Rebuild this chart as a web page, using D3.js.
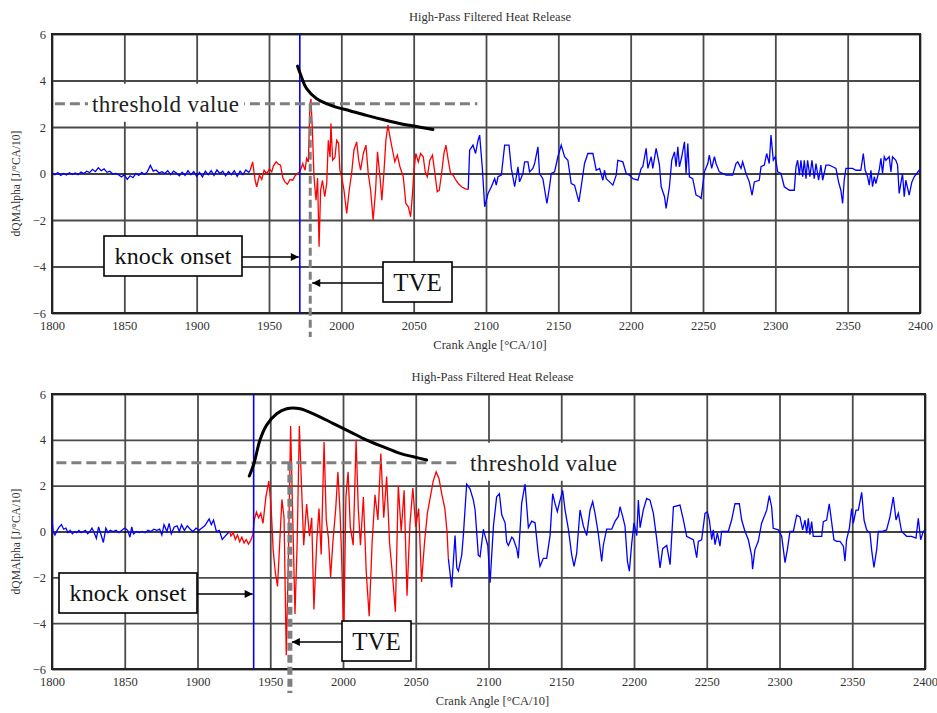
<!DOCTYPE html>
<html>
<head>
<meta charset="utf-8">
<script src="https://cdn.jsdelivr.net/npm/d3@7"></script>
<style>
  html, body { margin: 0; padding: 0; background: #fff; }
  svg { display: block; }
  text { font-family: "Liberation Serif", "Times New Roman", serif; }
</style>
</head>
<body>
<svg id="chart" width="937" height="713"></svg>
<script>
// ---------------- DATA ----------------
const chartTitle = "High-Pass Filtered Heat Release";
const xLabel = "Crank Angle [°CA/10]";
const yLabel = "dQMAlpha [J/°CA/10]";
const xTicks = [1800, 1850, 1900, 1950, 2000, 2050, 2100, 2150, 2200, 2250, 2300, 2350, 2400];
const yTicks = [-6, -4, -2, 0, 2, 4, 6];
const thresholdValue = 3;

// Top panel
const topKnockOnset = 1971.3;
const topTVE = 1978.5;
const topPre = [[1800,0.02],[1802,-0.05],[1804,0.04],[1806,-0.08],[1808,0.0],[1810,-0.06],[1812,0.03],[1814,-0.04],[1816,0.02],[1818,-0.05],[1820,0.06],[1822,0.0],[1824,0.1],[1826,0.04],[1828,0.18],[1830,0.08],[1832,0.25],[1834,0.12],[1836,0.2],[1838,0.05],[1840,0.1],[1842,-0.02],[1844,0.0],[1846,-0.05],[1848,-0.15],[1850,-0.05],[1852,-0.25],[1854,-0.1],[1856,-0.18],[1858,0.0],[1860,-0.08],[1862,0.05],[1864,-0.04],[1866,0.08],[1868,0.35],[1870,0.1],[1872,0.15],[1874,0.02],[1876,0.08],[1878,0.0],[1880,0.12],[1882,-0.05],[1884,0.1],[1886,0.02],[1888,-0.1],[1890,0.05],[1892,-0.08],[1894,0.12],[1896,-0.05],[1898,0.08],[1900,-0.12],[1902,0.05],[1904,-0.15],[1906,0.1],[1908,-0.05],[1910,0.12],[1912,-0.08],[1914,0.15],[1916,0.0],[1918,0.1],[1920,-0.1],[1922,0.08],[1924,-0.05],[1926,0.12],[1928,-0.12],[1930,0.1],[1932,-0.05],[1934,0.15],[1936,0.05],[1937,0.14]];
const topKnock = [[1937,0.14],[1938.7,0.5],[1940.4,-0.29],[1941.5,-0.57],[1943.4,-0.07],[1945,-0.26],[1946.6,0.14],[1948.4,0.0],[1950.3,0.2],[1951.9,0.07],[1953,0.32],[1954.9,0.5],[1956.5,0.4],[1958,0.36],[1959.5,-0.17],[1961,-0.36],[1962.7,-0.46],[1964.5,-0.26],[1966.4,-0.29],[1968,-0.1],[1969.6,0.0],[1971.4,0.07],[1973.3,0.43],[1974.9,0.14],[1976,0.65],[1977.2,0.5],[1978.3,3.0],[1979,3.2],[1980,1.86],[1981.1,-0.14],[1982.5,-1.15],[1983.6,-0.2],[1984.6,-3.15],[1985.7,-0.7],[1987,-0.3],[1988.5,-1.0],[1989.9,-0.43],[1991,1.43],[1992.2,0.7],[1992.8,2.15],[1994,0.57],[1995.6,0.7],[1996.8,1.43],[1998.1,1.3],[1999,0.14],[2000.2,-0.14],[2001.8,-0.7],[2003.7,-1.72],[2005.5,-0.7],[2007.1,0.0],[2008.7,1.0],[2010.6,1.36],[2012,0.57],[2013.3,0.14],[2015.2,0.86],[2017,1.22],[2018.6,0.0],[2020.2,-0.7],[2022,-2.0],[2023.7,-0.7],[2025,0.93],[2026.7,-0.14],[2028,-1.15],[2029.4,0.0],[2030.8,1.43],[2032.2,2.08],[2033.6,1.58],[2035.4,1.0],[2037,0.5],[2038.7,0.79],[2040.5,0.29],[2042.8,-0.14],[2044.6,-1.29],[2046.3,-1.43],[2047.9,-1.86],[2049.2,-0.86],[2050.2,0.14],[2051.5,0.86],[2053.2,0.5],[2054.8,0.86],[2056.6,0.72],[2058,0.07],[2059.4,-0.14],[2061.2,0.57],[2063,0.79],[2064.7,0.0],[2066.3,-0.79],[2067.7,-0.72],[2069.3,0.0],[2070.9,0.86],[2072.3,1.22],[2073.9,0.57],[2075.5,0.0],[2077.3,-0.07],[2079.2,-0.29],[2080.8,-0.43],[2083.1,-0.57],[2085.4,-0.65],[2087.7,-0.69]];
const topPost = [[2087.7,-0.69],[2088.7,1.0],[2091,1.22],[2092.8,0.86],[2094.5,1.43],[2095.6,1.65],[2097.4,0.29],[2099.1,-1.43],[2101.4,-0.86],[2103.7,-0.57],[2106,-0.22],[2107.1,-0.5],[2108.3,-0.14],[2110.6,-0.07],[2112.9,1.22],[2115.9,1.22],[2117.5,0.22],[2119.8,-0.57],[2122.1,0.29],[2123.2,-0.36],[2125.5,0.0],[2126.7,0.5],[2129,0.5],[2130.1,0.07],[2132.4,0.22],[2133.6,0.43],[2135.9,1.15],[2137,0.0],[2139.3,-0.22],[2142.1,-1.29],[2143.9,-0.57],[2145.1,0.0],[2147.4,0.07],[2149.7,0.72],[2152,1.22],[2154.3,0.72],[2156.6,0.57],[2158.9,-0.43],[2161.2,-0.5],[2164.2,-1.22],[2165.8,-0.57],[2168.1,0.43],[2170.4,0.86],[2173.9,0.86],[2176.2,0.14],[2178.5,0.22],[2180.8,-0.29],[2181.9,0.14],[2183.1,-0.22],[2185.4,-0.36],[2187.7,-0.5],[2190,-0.07],[2191.1,0.57],[2194.6,0.5],[2196.9,0.0],[2199.2,-0.07],[2201.5,-0.22],[2205,-0.29],[2207.3,0.22],[2208.4,0.29],[2210.7,1.08],[2211.9,0.22],[2214.2,0.72],[2215.3,0.22],[2217.6,1.08],[2219.9,0.36],[2221.1,-0.57],[2223.4,-1.0],[2224.5,-1.5],[2226.8,-0.57],[2228.4,0.57],[2230.3,0.93],[2231.4,0.29],[2232.6,1.15],[2233.7,0.29],[2235.3,0.72],[2237.2,1.36],[2238.3,0.0],[2239.5,1.29],[2240.6,-0.14],[2242.9,-0.22],[2245.2,-0.93],[2247.5,-1.0],[2248.7,-1.07],[2251,0.07],[2253.3,0.43],[2254.4,0.79],[2256,0.22],[2257.9,0.72],[2259,0.43],[2261.3,0.07],[2265.9,-0.07],[2270.5,-0.07],[2272.8,0.43],[2274,0.5],[2276.3,0.22],[2277.4,0.5],[2279.7,0.0],[2282,-0.36],[2283.9,-0.93],[2285.5,-0.36],[2288.9,-0.29],[2290.1,0.29],[2292.4,0.36],[2294,0.86],[2295.8,0.43],[2297,1.65],[2298.6,0.57],[2300,0.72],[2301.6,0.07],[2303.9,0.0],[2306.2,-0.57],[2309.7,-0.72],[2313.1,-0.72],[2314.3,0.29],[2315.4,0.57],[2316.6,-0.07],[2317.7,0.57],[2318.9,-0.14],[2320,0.57],[2321.2,-0.22],[2322.3,0.57],[2323.9,-0.14],[2325.3,0.57],[2326.9,-0.22],[2328.1,0.43],[2329.9,-0.29],[2331.5,0.36],[2332.7,-0.29],[2335,0.36],[2337.3,0.36],[2339.6,0.29],[2341.9,0.22],[2343.7,-0.36],[2345.3,-0.72],[2346.5,-1.29],[2347.6,-0.29],[2348.8,0.22],[2353.4,0.22],[2355.7,0.14],[2359.1,0.14],[2360.8,0.86],[2362.1,0.14],[2363.8,-0.14],[2364.9,-0.5],[2366.1,0.14],[2367.2,-0.57],[2368.4,-0.14],[2369.5,-0.43],[2371.8,0.14],[2373,0.65],[2374.1,0.0],[2375.3,0.72],[2376.4,0.57],[2378.7,0.72],[2379.9,0.07],[2381,0.72],[2383.3,0.57],[2384.5,0.36],[2385.6,-0.86],[2387.9,0.0],[2389.1,-1.0],[2390.2,-0.29],[2392.5,-0.93],[2394.4,-0.36],[2396,-0.14],[2399.4,0.14],[2400,0.17]];
const topEnvelope = [[1969.7,4.62],[1972.4,4.16],[1975.9,3.66],[1982.8,3.23],[1994.3,2.9],[2005.8,2.7],[2017.3,2.5],[2028.8,2.32],[2040.3,2.15],[2051.8,2.02],[2063.3,1.89]];

// Bottom panel
const botKnockOnset = 1938.6;
const botTVE = 1963.5;
const botPre = [[1800,0.55],[1800.8,0.0],[1802,-0.15],[1803.5,0.05],[1805,0.2],[1806.5,0.3],[1808,0.1],[1809.5,0.15],[1811,-0.05],[1812.5,0.05],[1814,-0.1],[1815.5,0.0],[1817,-0.05],[1818.5,0.05],[1820,-0.05],[1821.5,0.0],[1823,0.05],[1824.5,-0.1],[1826,0.0],[1827.5,0.15],[1829,-0.05],[1830.5,-0.3],[1832,0.2],[1833.5,-0.1],[1835.3,-0.48],[1837,0.15],[1838.5,-0.05],[1840,0.05],[1842,0.0],[1844,0.05],[1846,-0.05],[1848,0.05],[1850,0.15],[1852,0.05],[1853.6,-0.25],[1854.8,0.2],[1856,-0.1],[1858,0.0],[1860,-0.05],[1862,0.0],[1864,-0.05],[1866,0.05],[1868,0.0],[1870,0.1],[1872,0.05],[1874,0.1],[1875.5,-0.15],[1877,0.3],[1879,0.0],[1880.5,0.35],[1882,-0.1],[1884,0.2],[1886,0.25],[1887.5,0.0],[1889,0.3],[1891,0.05],[1893,0.25],[1895,0.1],[1897,0.0],[1899,0.15],[1901,0.05],[1903,0.15],[1905,0.25],[1906.5,0.4],[1908,0.55],[1909.5,0.3],[1911,0.5],[1913,0.0],[1915,0.05],[1917,-0.35],[1919,-0.2],[1920.5,-0.1],[1922,0.0]];
const botKnock = [[1922,0.0],[1923,-0.2],[1924.5,-0.05],[1926,-0.35],[1927.5,-0.15],[1929,-0.45],[1930.5,-0.25],[1932,-0.5],[1933.5,-0.35],[1935,-0.55],[1936.5,-0.4],[1938,-0.15],[1939,0.5],[1940.5,0.85],[1942,0.6],[1943.5,0.8],[1945,0.35],[1947,1.5],[1949,2.2],[1950.5,1.2],[1952,-0.8],[1953.5,-1.8],[1955,-2.4],[1956.5,-0.5],[1958,1.4],[1959.5,0.6],[1961,-5.4],[1962.5,-1.0],[1964,4.6],[1965.5,0.5],[1967,-3.6],[1968.5,-0.5],[1970,4.6],[1971.5,2.0],[1973,-0.6],[1975,1.2],[1977,-0.2],[1978.5,0.6],[1980,-3.4],[1982,-0.4],[1983.5,1.0],[1985,-1.0],[1987,3.9],[1988.5,0.5],[1990,-0.3],[1991.5,-2.0],[1993,-0.5],[1995,1.0],[1996.5,2.6],[1998,0.8],[1999,-1.0],[2000.5,-4.6],[2002,1.5],[2003.5,2.6],[2005,0.2],[2007,-0.6],[2009,4.0],[2010.5,1.0],[2012,-0.6],[2014,1.5],[2016,-1.8],[2018,-3.7],[2020,-0.5],[2022,1.6],[2024,0.5],[2026,3.4],[2028,0.6],[2030,2.4],[2032,-0.5],[2034,-1.9],[2036,-3.5],[2038,2.0],[2040,0.0],[2042,1.8],[2044,-2.8],[2046,0.3],[2048,1.9],[2050,0.2],[2052,1.0],[2054,-2.2],[2056,-0.5],[2058,0.8],[2060,1.5],[2062,2.2],[2064,2.6],[2066,2.3],[2068,1.6],[2070,1.0],[2071.5,0.0],[2072.4,-1.17]];
const botPost = [[2072.4,-1.17],[2074.7,-2.44],[2077,-0.18],[2078.2,-1.59],[2079.3,-1.73],[2081.6,-1.03],[2082.7,-0.18],[2085,2.07],[2087.3,1.86],[2089.6,1.37],[2090.8,0.94],[2093,-1.03],[2094.2,-1.1],[2096.5,0.1],[2097.6,-0.18],[2099.5,-0.61],[2101.1,-2.23],[2103.4,0.24],[2105.6,1.51],[2107.5,1.65],[2109.1,0.73],[2111.4,0.38],[2112.5,-0.46],[2113.7,-0.61],[2116,-0.25],[2117.1,-0.32],[2119.4,-0.75],[2120.5,-1.17],[2122.8,1.23],[2125.1,2.07],[2127.4,0.17],[2129.7,0.45],[2132,0.38],[2134.3,-1.03],[2135.4,-1.52],[2137.7,-1.17],[2140,-1.17],[2142.3,-0.18],[2144.1,1.65],[2145.7,1.23],[2147.3,0.87],[2149.2,1.37],[2151,1.79],[2152.6,0.94],[2154.9,0.1],[2157.2,-1.03],[2158.8,-1.52],[2160.6,-0.96],[2162.9,0.94],[2165.2,0.24],[2167.5,-0.18],[2169.8,0.94],[2171.6,1.3],[2173.2,0.8],[2175.5,-0.11],[2177.8,-1.31],[2178.9,-0.61],[2181.2,0.1],[2184.7,0.1],[2187,0.45],[2189.3,0.66],[2190.4,1.08],[2192.2,0.66],[2193.8,0.24],[2195.5,-1.31],[2196.8,-1.73],[2198.4,-0.54],[2200,0.38],[2201.9,-0.18],[2203,1.37],[2204.2,0.17],[2206.4,0.94],[2208.7,1.44],[2211,1.37],[2213.3,0.8],[2215.6,-0.32],[2217.9,-1.59],[2219.7,-0.75],[2222.5,-0.61],[2224.8,-1.45],[2227.1,1.08],[2231.6,1.15],[2233.9,0.52],[2236.2,-0.21],[2238.5,-0.29],[2240.8,-0.36],[2243.1,-1.14],[2244.2,-0.43],[2246.5,-0.36],[2248.8,0.79],[2250.4,0.86],[2251.8,0.5],[2253.4,-0.36],[2254.5,0.07],[2255.7,-0.57],[2257.3,-0.07],[2259.1,-0.64],[2260.2,0.0],[2262.5,0.0],[2264.8,0.0],[2267.1,0.5],[2269.4,1.21],[2272.4,1.21],[2274,0.5],[2276.3,0.0],[2278.6,-0.36],[2280.9,-1.07],[2281.5,-1.64],[2283.1,-0.79],[2285.4,-0.43],[2287.7,0.36],[2291.2,0.93],[2293,1.57],[2294.6,1.07],[2295.7,0.14],[2299.2,0.07],[2301.5,-0.21],[2303.8,-1.36],[2305.4,-0.79],[2307.2,0.0],[2309.5,0.0],[2311.8,0.71],[2314.1,0.64],[2315.9,0.07],[2317.5,0.5],[2318.7,-0.07],[2319.8,0.57],[2320.9,-0.14],[2322.1,0.43],[2323.2,-0.21],[2325.5,-0.21],[2329,-0.21],[2330.1,0.43],[2332.4,0.5],[2334.2,1.21],[2335.8,0.43],[2337.4,-0.36],[2339.3,-0.43],[2341.6,-0.43],[2343.9,-0.64],[2345,-1.29],[2346.1,-0.36],[2348,0.14],[2349.6,1.0],[2350.7,0.36],[2352.6,0.93],[2354.2,0.93],[2356.5,1.71],[2358.1,0.5],[2359.9,0.07],[2362.2,-0.07],[2363.3,-0.79],[2364.9,-1.57],[2366.8,-0.79],[2367.9,0.0],[2370.2,0.0],[2373.6,0.07],[2375.9,0.64],[2378.2,1.5],[2380.1,0.5],[2381.7,0.79],[2383.9,0.0],[2387.4,-0.21],[2390.8,-0.21],[2393.8,-0.29],[2395.4,0.57],[2397,-0.36],[2398.8,0.0],[2400,0.07]];
const botEnvelope = [[1935.6,2.42],[1938.8,2.97],[1943,4.0],[1947.5,4.64],[1954.4,5.14],[1961.3,5.36],[1970.4,5.36],[1981.9,5.07],[1993.4,4.71],[2004.9,4.35],[2016.3,3.99],[2027.8,3.69],[2039.2,3.41],[2048.4,3.26],[2057.5,3.12]];

// --------------- DRAWING ---------------
const svg = d3.select("#chart");
svg.append("rect").attr("width", 937).attr("height", 713).attr("fill", "#fff");

const defs = svg.append("defs");
defs.append("marker").attr("id", "arrow").attr("viewBox", "0 0 10 10")
  .attr("refX", 10).attr("refY", 5).attr("markerWidth", 10).attr("markerHeight", 8)
  .attr("markerUnits", "userSpaceOnUse").attr("orient", "auto")
  .append("path").attr("d", "M0,0 L10,5 L0,10 Z").attr("fill", "#000");

function drawPanel(p) {
  const x = d3.scaleLinear().domain([1800, 2400]).range([p.left, p.right]);
  const y = d3.scaleLinear().domain([-6, 6]).range([p.bottom, p.top]);
  const g = svg.append("g");

  // title
  g.append("text").attr("x", (p.left + p.right) / 2 + 4).attr("y", p.top - 13)
    .attr("text-anchor", "middle").attr("font-size", 12.5).attr("fill", "#333")
    .text(chartTitle);

  // grid via axes
  const gx = g.append("g").attr("transform", `translate(0,${p.bottom})`)
    .call(d3.axisBottom(x).tickValues(xTicks).tickSize(-(p.bottom - p.top)).tickFormat(d3.format("d")).tickPadding(8));
  gx.selectAll("line").attr("stroke", "#4a4a4a").attr("stroke-width", 1.8);
  gx.select(".domain").remove();
  gx.selectAll("text").attr("font-size", 12.5).attr("fill", "#333")
    .attr("font-family", "Liberation Serif, Times New Roman, serif");

  const gy = g.append("g").attr("transform", `translate(${p.left},0)`)
    .call(d3.axisLeft(y).tickValues(yTicks).tickSize(-(p.right - p.left)).tickPadding(6));
  gy.selectAll("line").attr("stroke", d => d === 0 ? "#000" : "#4a4a4a").attr("stroke-width", d => d === 0 ? 1.6 : 1.8);
  gy.select(".domain").remove();
  gy.selectAll("text").attr("font-size", 12.5).attr("fill", "#333")
    .attr("font-family", "Liberation Serif, Times New Roman, serif");

  // frame
  g.append("rect").attr("x", p.left).attr("y", p.top)
    .attr("width", p.right - p.left).attr("height", p.bottom - p.top)
    .attr("fill", "none").attr("stroke", "#222").attr("stroke-width", 2);

  // axis labels
  g.append("text").attr("x", (p.left + p.right) / 2 + 4).attr("y", p.bottom + 36)
    .attr("text-anchor", "middle").attr("font-size", 12.5).attr("fill", "#333").text(xLabel);
  g.append("text").attr("transform", `translate(${p.left - 32},${(p.top + p.bottom) / 2 + 10}) rotate(-90)`)
    .attr("text-anchor", "middle").attr("font-size", 11.5).attr("fill", "#333").text(yLabel);

  const line = d3.line().x(d => x(d[0])).y(d => y(d[1]));

  // signal
  g.append("path").datum(p.pre).attr("d", line).attr("fill", "none").attr("stroke", "#0000ff").attr("stroke-width", 1.3);
  g.append("path").datum(p.post).attr("d", line).attr("fill", "none").attr("stroke", "#0000ff").attr("stroke-width", 1.3);
  g.append("path").datum(p.knock).attr("d", line).attr("fill", "none").attr("stroke", "#ff0000").attr("stroke-width", 1.3);

  // knock onset vertical
  g.append("line").attr("x1", x(p.onset)).attr("x2", x(p.onset)).attr("y1", p.top).attr("y2", p.bottom)
    .attr("stroke", "#0000ff").attr("stroke-width", 1.6);

  // threshold line
  g.append("line").attr("x1", x(p.thrFrom)).attr("x2", x(p.thrTo))
    .attr("y1", y(thresholdValue)).attr("y2", y(thresholdValue))
    .attr("stroke", "#7f7f7f").attr("stroke-width", 3).attr("stroke-dasharray", "10,5");

  // TVE dashed vertical
  g.append("line").attr("x1", x(p.tve)).attr("x2", x(p.tve))
    .attr("y1", y(thresholdValue)).attr("y2", p.bottom + 24)
    .attr("stroke", "#7f7f7f").attr("stroke-width", p.tveWidth).attr("stroke-dasharray", "8,4");

  // envelope
  g.append("path").datum(p.envelope).attr("d", d3.line().curve(d3.curveCatmullRom).x(d => x(d[0])).y(d => y(d[1])))
    .attr("fill", "none").attr("stroke", "#000").attr("stroke-width", 3).attr("stroke-linecap", "round");

  // threshold text
  const tv = p.thrText;
  g.append("rect").attr("x", tv.x - 4).attr("y", y(thresholdValue) - 20).attr("width", 156).attr("height", 38).attr("fill", "#fff");
  g.append("text").attr("x", tv.x).attr("y", y(thresholdValue) + 8).attr("font-size", 23)
    .attr("textLength", 147).attr("lengthAdjust", "spacing").attr("fill", "#222").text("threshold value");

  // knock onset box + arrow
  const kb = p.knockBox;
  g.append("rect").attr("x", kb.x).attr("y", kb.y).attr("width", 138).attr("height", 40)
    .attr("fill", "#fff").attr("stroke", "#000").attr("stroke-width", 1.6);
  g.append("text").attr("x", kb.x + 69).attr("y", kb.y + 28).attr("text-anchor", "middle")
    .attr("font-size", 24).attr("textLength", 117).attr("lengthAdjust", "spacing").attr("fill", "#111").text("knock onset");
  g.append("line").attr("x1", kb.x + 138).attr("x2", x(p.onset) - 1).attr("y1", kb.y + 21).attr("y2", kb.y + 21)
    .attr("stroke", "#000").attr("stroke-width", 1.6).attr("marker-end", "url(#arrow)");

  // TVE box + arrow
  const tb = p.tveBox;
  g.append("rect").attr("x", tb.x).attr("y", tb.y).attr("width", 69).attr("height", 40)
    .attr("fill", "#fff").attr("stroke", "#000").attr("stroke-width", 1.6);
  g.append("text").attr("x", tb.x + 34.5).attr("y", tb.y + 29).attr("text-anchor", "middle")
    .attr("font-size", 25).attr("fill", "#111").text("TVE");
  g.append("line").attr("x1", tb.x).attr("x2", x(p.tve) + 2).attr("y1", tb.y + 21).attr("y2", tb.y + 21)
    .attr("stroke", "#000").attr("stroke-width", 1.6).attr("marker-end", "url(#arrow)");
}

drawPanel({
  left: 52, right: 920, top: 34, bottom: 313,
  pre: topPre, knock: topKnock, post: topPost, envelope: topEnvelope,
  onset: topKnockOnset, tve: topTVE, tveWidth: 3,
  thrFrom: 1802, thrTo: 2094,
  thrText: { x: 92 },
  knockBox: { x: 104, y: 236 },
  tveBox: { x: 383, y: 262 }
});

drawPanel({
  left: 52, right: 925, top: 394, bottom: 669,
  pre: botPre, knock: botKnock, post: botPost, envelope: botEnvelope,
  onset: botKnockOnset, tve: botTVE, tveWidth: 5,
  thrFrom: 1803, thrTo: 2080,
  thrText: { x: 470 },
  knockBox: { x: 59, y: 573 },
  tveBox: { x: 342, y: 621 }
});
</script>
</body>
</html>
